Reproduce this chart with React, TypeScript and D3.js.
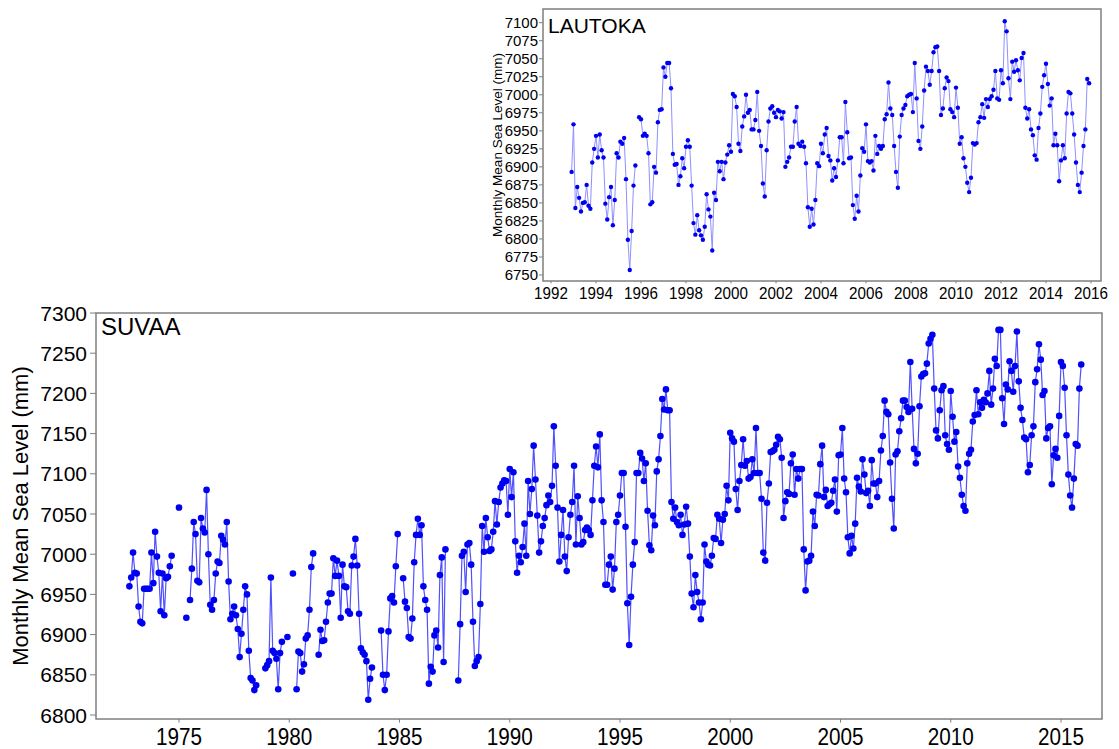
import React from "react";
import * as d3 from "d3";

// Monthly mean sea level (mm).
// null = month missing from the record.

// Suva, Oct 1972 - Dec 1979
const suva1970s = [
  6960, 6971, 7002,
  6977, 6976, 6935, 6916, 6914, 6957, 6957, 6957, 6957, 7002, 6964, 7028,
  6997, 6977, 6929, 6976, 6924, 6970, 6972, 6985, 6998, null, null, null,
  7058, null, null, null, 6921, null, 6943, 6982, 7040, 7025, 6967, 6965,
  7045, 7032, 7027, 7080, 7000, 6937, 6931, 6943, 6976, 6991, 6989, 7023,
  7018, 7012, 7040, 6966, 6919, 6926, 6935, 6924, 6907, 6872, 6901, 6931,
  6960, 6950, 6880, 6846, 6843, 6831, 6837, null, null, null, null, 6858,
  6862, 6867, 6971, 6880, 6877, 6870, 6832, 6877, 6891, null, null, 6897,
];
const suva1980s = [
  null, null, 6976, null, 6832, 6879, 6877, 6854, 6863, 6895, 6899, 6931,
  6984, 7001, null, null, 6875, 6906, 6892, 6893, 6916, 6940, 6951, 6951,
  6995, 6973, 6992, 6973, 6921, 6987, 6960, 6959, 6929, 6926, 6986, 6997,
  7019, 6986, 6926, 6883, 6878, 6875, 6867, 6819, 6845, 6859, null, null,
  null, null, 6905, 6850, 6831, 6850, 6904, 6945, 6948, 6940, 6985, 7025,
  null, null, 6970, 6941, 6933, 6897, 6895, 6920, 6990, 7024, 7044, 7024,
  7036, 6960, 6943, 6931, 6839, 6860, 6854, 6899, 6905, 6884, 6974, 6996,
  6866, 7006, null, null, null, null, null, null, 6843, 6913, 6998, 7003,
  6953, 7012, 7014, 6987, 6916, 6861, 6867, 6872, 6938, 7035, 7003, 7045,
  7021, 7004, 7006, 7028, 7066, 7037, 7065, 7083, 7088, 7092, 7091, 7049,
];
const suva1990s = [
  7106, 7071, 7102, 7016, 6977, 6998, 6990, 7009, 7038, 6998, 7091, 7050,
  7081, 7135, 7093, 7048, 7002, 7016, 7035, 7045, 7061, 7073, 7065, 7085,
  7159, 7110, 7058, 6991, 7024, 7055, 6997, 6979, 7021, 7049, 7065, 7110,
  7012, 7072, 7045, 7012, 7015, 7030, 7033, 7030, 7024, 7067, 7110, 7134,
  7108, 7149, 7067, 7040, 6962, 6962, 6987, 6997, 6956, 6982, 7040, 7049,
  7073, 7101, 7101, 7034, 6939, 6887, 6947, 6987, 7015, 7101, 7101, 7126,
  7119, 7091, 7113, 7054, 7011, 7005, 7048, 7036, 7103, 7118, 7147, 7193,
  7180, 7205, 7179, 7179, 7065, 7044, 7058, 7040, 7036, 7049, 7024, 7037,
  7059, 7038, 6997, 6951, 6934, 6974, 6953, 6940, 6919, 6940, 7012, 6991,
  6987, 6986, 6998, 7020, 7019, 7049, 7044, 7014, 7043, 7050, 7085, 7067,
];
const suva2000s = [
  7151, 7144, 7140, 7081, 7055, 7091, 7111, 7143, 7110, 7116, 7094, 7096,
  7118, 7101, 7157, 7101, 7101, 7069, 7002, 6992, 7064, 7088, 7127, 7128,
  7130, 7136, 7146, 7143, 7120, 7045, 7066, 7077, 7075, 7113, 7124, 7074,
  7106, 7094, 7106, 7106, 7006, 6955, 6991, 6992, 6998, 7053, 7035, 7074,
  7073, 7112, 7135, 7071, 7080, 7060, 7062, 7064, 7079, 7093, 7053, 7123,
  7124, 7157, 7094, 7077, 7021, 7001, 7023, 7007, 7038, 7095, 7084, 7078,
  7118, 7099, 7076, 7079, 7060, 7117, 7088, 7088, 7071, 7091, 7129, 7147,
  7191, 7177, 7174, 7114, 7069, 7032, 7124, 7128, 7153, 7169, 7191, 7191,
  7183, 7177, 7239, 7181, 7131, 7113, 7125, 7184, 7221, 7224, 7225, 7237,
  7262, 7268, 7273, 7206, 7154, 7144, 7179, 7204, 7209, 7148, 7137, 7130,
];
const suva2010s = [
  7203, 7171, 7140, 7152, 7109, 7095, 7074, 7060, 7054, 7113, 7125, 7130,
  7165, 7173, 7204, 7174, 7189, 7182, 7192, 7189, 7200, 7228, 7186, 7206,
  7243, 7234, 7279, 7279, 7194, 7162, 7211, 7205, 7240, 7228, 7202, 7234,
  7277, 7215, 7182, 7167, 7145, 7143, 7102, 7111, 7148, 7159, 7214, 7230,
  7261, 7242, 7198, 7203, 7144, 7157, 7159, 7087, 7123, 7131, 7120, 7172,
  7239, 7234, 7207, 7148, 7099, 7073, 7058, 7094, 7137, 7135, 7206, 7236,
];

// Lautoka, Dec 1992 - Dec 2015
const lautoka1990s = [
  6893,
  6959, 6843, 6872, 6857, 6838, 6850, 6851, 6875, 6846, 6842, 6906, 6925,
  6943, 6913, 6945, 6923, 6913, 6849, 6827, 6858, 6872, 6819, 6854, 6919,
  6913, 6935, 6932, 6940, 6883, 6799, 6757, 6811, 6874, 6902, null, 6969,
  6966, 6943, 6946, 6943, 6919, 6848, 6851, 6900, 6892, 6962, 6979, 6980,
  7038, 7025, 7044, 7044, 7009, 6918, 6903, 6904, 6875, 6887, 6912, 6898,
  6928, 6937, 6928, 6874, 6822, 6806, 6833, 6812, 6805, 6799, 6817, 6862,
  6841, 6831, 6784, 6864, 6854, 6907, 6894, 6907, 6883, 6906, 6917, 6930,
];
const lautoka2000s = [
  6921, 7001, 6998, 6983, 6932, 6922, 6956, 6970, 7000, 6975, 6979, 6952,
  6952, 6965, 7004, 6950, 6929, 6877, 6859, 6923, 6963, 6981, 6984, 6975,
  6969, 6979, 6977, 6967, 6976, 6900, 6907, 6913, 6928, 6928, 6963, 6983,
  6932, 6929, 6935, 6928, 6905, 6844, 6817, 6842, 6820, 6854, 6905, 6901,
  6932, 6919, 6945, 6954, 6915, 6909, 6881, 6898, 6886, 6909, 6941, 6941,
  6905, 6990, 6948, 6912, 6913, 6847, 6828, 6860, 6838, 6888, 6926, 6921,
  6959, 6908, 6906, 6908, 6895, 6943, 6918, 6929, 6925, 6929, 6966, 6973,
  7017, 6981, 6972, 6929, 6893, 6871, 6942, 6972, 6981, 6986, 6998, 7000,
  7001, 6976, 7044, 6995, 6936, 6925, 6956, 7006, 7039, 7033, 7014, 7033,
  7059, 7066, 7067, 7033, 6972, 6981, 7009, 7024, 7019, 6980, 6976, 6969,
];
const lautoka2010s = [
  7010, 6982, 6932, 6941, 6912, 6900, 6878, 6865, 6885, 6933, 6931, 6933,
  6962, 6969, 6987, 6968, 6994, 6983, 6994, 6998, 7007, 7033, 6995, 6993,
  7034, 7016, 7102, 7088, 7023, 6994, 7046, 7032, 7048, 7034, 7020, 7051,
  7058, 6982, 6967, 6980, 6952, 6944, 6916, 6910, 6954, 6974, 7011, 7027,
  7043, 7015, 6985, 6995, 6930, 6946, 6930, 6880, 6909, 6930, 6912, 6974,
  7004, 7002, 6974, 6945, 6906, 6875, 6865, 6892, 6929, 6952, 7022, 7016,
];

const suvaYearTicks = [1975, 1980, 1985, 1990, 1995, 2000, 2005, 2010, 2015];
const suvaLevelTicks = [6800, 6850, 6900, 6950, 7000, 7050, 7100, 7150, 7200, 7250, 7300];
const lautokaYearTicks = [1992, 1994, 1996, 1998, 2000, 2002, 2004, 2006, 2008, 2010, 2012, 2014, 2016];
const lautokaLevelTicks = [6750, 6775, 6800, 6825, 6850, 6875, 6900, 6925, 6950, 6975, 7000, 7025, 7050, 7075, 7100];

const FONT = "'Liberation Sans', Arial, Helvetica, sans-serif";

type Pt = { t: number; v: number | null };

// month 1..12 of the first value; each value is one month later
const toSeries = (year: number, month: number, values: (number | null)[]): Pt[] =>
  values.map((v, i) => ({ t: year + (month - 1 + i) / 12, v }));

const suva = toSeries(1972, 10, [...suva1970s, ...suva1980s, ...suva1990s, ...suva2000s, ...suva2010s]);
const lautoka = toSeries(1992, 12, [...lautoka1990s, ...lautoka2000s, ...lautoka2010s]);

type PanelProps = {
  data: Pt[];
  title: string;
  frame: { left: number; right: number; top: number; bottom: number };
  x: d3.ScaleLinear<number, number>;
  y: d3.ScaleLinear<number, number>;
  xTicks: number[];
  yTicks: number[];
  s: {
    r: number;
    lineW: number;
    lineColor: string;
    tickFont: number;
    xTickFont: number;
    xTickSquash: number;
    xLabelBase: number;
    yLabelRight: number;
    tickLen: number;
    titleFont: number;
    titleBase: number;
    axisFont: number;
    axisX: number;
  };
};

function Panel({ data, title, frame, x, y, xTicks, yTicks, s }: PanelProps) {
  const line = d3
    .line<Pt>()
    .defined((d) => d.v != null)
    .x((d) => x(d.t))
    .y((d) => y(d.v as number));
  const pts = data.filter((d) => d.v != null);
  const midY = (frame.top + frame.bottom) / 2;

  return (
    <g>
      <rect
        x={frame.left}
        y={frame.top}
        width={frame.right - frame.left}
        height={frame.bottom - frame.top}
        fill="#fff"
        stroke="#7f7f7f"
        strokeWidth={1.5}
      />
      {yTicks.map((t) => (
        <g key={"y" + t}>
          <line x1={frame.left - s.tickLen} x2={frame.left} y1={y(t)} y2={y(t)} stroke="#7f7f7f" strokeWidth={1} />
          <text
            x={s.yLabelRight}
            y={y(t)}
            dy="0.36em"
            textAnchor="end"
            fontSize={s.tickFont}
            fontFamily={FONT}
            fill="#000"
          >
            {t}
          </text>
        </g>
      ))}
      {xTicks.map((t) => (
        <g key={"x" + t}>
          <line x1={x(t)} x2={x(t)} y1={frame.bottom} y2={frame.bottom + s.tickLen * 0.6} stroke="#7f7f7f" strokeWidth={1} />
          <text
            transform={`translate(${x(t)},${s.xLabelBase}) scale(${s.xTickSquash},1)`}
            textAnchor="middle"
            fontSize={s.xTickFont}
            fontFamily={FONT}
            fill="#000"
          >
            {t}
          </text>
        </g>
      ))}
      <path d={line(data) || ""} fill="none" stroke={s.lineColor} strokeWidth={s.lineW} />
      {pts.map((d, i) => (
        <circle key={i} cx={x(d.t)} cy={y(d.v as number)} r={s.r} fill="#0000f0" />
      ))}
      <text x={frame.left + 5} y={s.titleBase} fontSize={s.titleFont} fontFamily={FONT} fill="#000">
        {title}
      </text>
      <text
        transform={`translate(${s.axisX},${midY}) rotate(-90)`}
        textAnchor="middle"
        fontSize={s.axisFont}
        fontFamily={FONT}
        fill="#000"
      >
        Monthly Mean Sea Level (mm)
      </text>
    </g>
  );
}

export default function App() {
  const lx = d3.scaleLinear().domain([1992, 2016]).range([551, 1091]);
  const ly = d3.scaleLinear().domain([6750, 7100]).range([275, 22.7]);
  const sx = d3.scaleLinear().domain([1975, 2015]).range([179, 1061]);
  const sy = d3.scaleLinear().domain([6800, 7300]).range([715, 313]);

  return (
    <svg
      width={1119}
      height={749}
      style={{ position: "absolute", left: 0, top: 0, background: "#fff" }}
    >
      <rect width={1119} height={749} fill="#fff" />
      <Panel
        data={lautoka}
        title="LAUTOKA"
        frame={{ left: 543, right: 1101, top: 9, bottom: 281 }}
        x={lx}
        y={ly}
        xTicks={lautokaYearTicks}
        yTicks={lautokaLevelTicks}
        s={{
          r: 2.2,
          lineW: 1,
          lineColor: "#9090ff",
          tickFont: 15,
          xTickFont: 16,
          xTickSquash: 0.95,
          xLabelBase: 299,
          yLabelRight: 538,
          tickLen: 4,
          titleFont: 21,
          titleBase: 33,
          axisFont: 13.5,
          axisX: 502,
        }}
      />
      <Panel
        data={suva}
        title="SUVAA"
        frame={{ left: 96, right: 1102, top: 313, bottom: 719 }}
        x={sx}
        y={sy}
        xTicks={suvaYearTicks}
        yTicks={suvaLevelTicks}
        s={{
          r: 3.3,
          lineW: 1.2,
          lineColor: "#5050ff",
          tickFont: 21,
          xTickFont: 23,
          xTickSquash: 0.9,
          xLabelBase: 745,
          yLabelRight: 87,
          tickLen: 6,
          titleFont: 24,
          titleBase: 335,
          axisFont: 22,
          axisX: 28,
        }}
      />
    </svg>
  );
}
